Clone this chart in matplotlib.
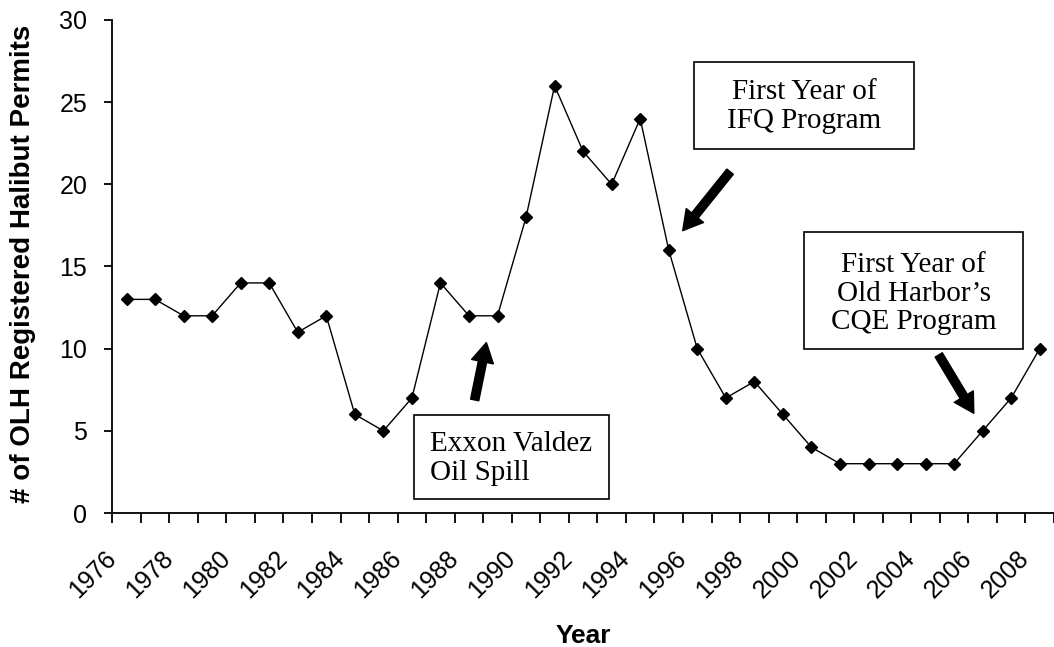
import matplotlib.pyplot as plt
from matplotlib.patches import Rectangle, FancyArrowPatch
from matplotlib.transforms import ScaledTranslation

years = list(range(1976, 2009))
permits = [13, 13, 12, 12, 14, 14, 11, 12, 6, 5, 7, 14, 12, 12, 18, 26,
           22, 20, 24, 16, 10, 7, 8, 6, 4, 3, 3, 3, 3, 3, 5, 7, 10]
tick_labels = [str(y) for y in years[::2]]

# annotation boxes: (text, x0, x1, y0, y1, text x, text y, ha)
notes = [
    ("First Year of\nIFQ Program", 19.89, 27.58, 22.14, 27.47, 23.735, 24.75, "center"),
    ("First Year of\nOld Harbor\u2019s\nCQE Program", 23.74, 31.43, 9.96, 17.08, 27.585, 13.35, "center"),
    ("Exxon Valdez\nOil Spill", 10.08, 16.92, 0.83, 5.96, 10.65, 3.3, "left"),
]
# arrows: (tail, head)
arrows = [
    ((21.15, 20.77), (19.49, 17.18)),
    ((28.46, 9.62), (29.69, 6.07)),
    ((12.2, 6.88), (12.61, 10.37)),
]

fig = plt.figure(figsize=(10.54, 6.47), dpi=100)
ax = fig.add_axes([0.1065, 0.2071, 0.8935, 0.762])

x = list(range(len(years)))
ax.plot(x, permits, color="black", lw=1, marker="D", markersize=6,
        markerfacecolor="black", markeredgecolor="black")

ax.set_xlim(-0.5, 32.43)
ax.set_ylim(0, 30)
ax.set_yticks(range(0, 31, 5))

# category boundaries as ticks, labels on every other category centre
ax.set_xticks([i - 0.5 for i in range(len(years) + 1)])
ax.set_xticklabels([])
ax.set_xticks(x[::2], minor=True)
ax.set_xticklabels(tick_labels, minor=True, rotation=45, ha="right",
                   rotation_mode="anchor", fontsize=18, family="Liberation Sans")
ax.tick_params(axis="x", which="major", direction="out", length=7, width=1.3)
ax.tick_params(axis="x", which="minor", length=0, pad=18)
ax.tick_params(axis="y", direction="out", length=6, width=1.3, labelsize=18, pad=12)
for lab in ax.get_yticklabels():
    lab.set_family("Liberation Sans")

shift = ScaledTranslation(-23 / 100, -8 / 100, fig.dpi_scale_trans)
for lab in ax.xaxis.get_minorticklabels():
    lab.set_transform(lab.get_transform() + shift)

for s in ["top", "right"]:
    ax.spines[s].set_visible(False)
for s in ["left", "bottom"]:
    ax.spines[s].set_linewidth(1.3)

ax.set_xlabel("Year", fontsize=19, fontweight="bold", family="Liberation Sans")
ax.set_ylabel("# of OLH Registered Halibut Permits", fontsize=20, fontweight="bold",
              family="Liberation Sans")
ax.xaxis.set_label_coords(0.5, -0.226)
ax.yaxis.set_label_coords(-0.081, 0.505)

for text, x0, x1, y0, y1, tx, ty, ha in notes:
    ax.add_patch(Rectangle((x0, y0), x1 - x0, y1 - y0, facecolor="white",
                           edgecolor="black", lw=1.2, zorder=4))
    ax.text(tx, ty, text, ha=ha, va="center", multialignment=ha,
            family="Liberation Serif", fontsize=21, linespacing=1.13, zorder=5)

for tail, head in arrows:
    ax.add_patch(FancyArrowPatch(tail, head, arrowstyle="simple,head_length=14,head_width=16,tail_width=6",
                                 mutation_scale=1, color="black", shrinkA=0, shrinkB=0, zorder=5))

fig.savefig("out.png", dpi=100)
